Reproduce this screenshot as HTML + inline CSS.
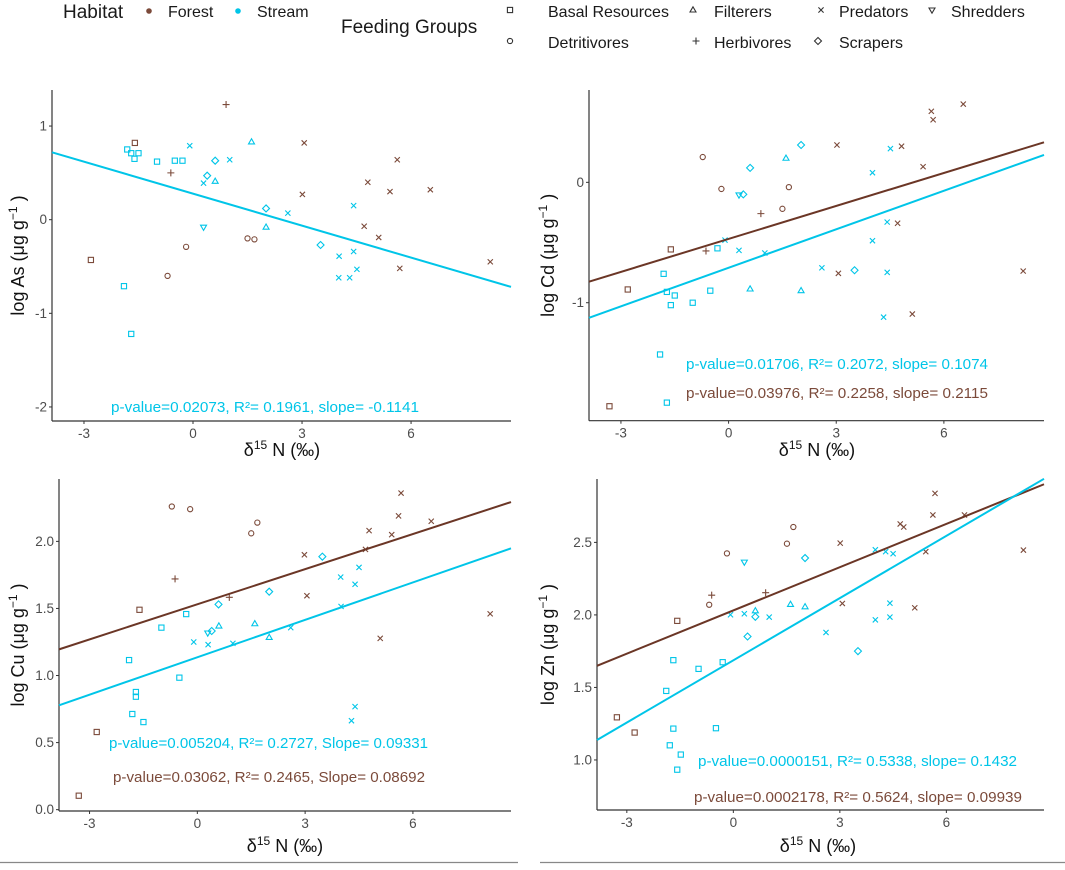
<!DOCTYPE html>
<html><head><meta charset="utf-8">
<style>
html,body{margin:0;padding:0;background:#fff;}
body{width:1065px;height:865px;overflow:hidden;font-family:"Liberation Sans",Arial,sans-serif;}
svg text{font-family:"Liberation Sans",Arial,sans-serif;}
</style></head>
<body>
<svg id="chart" width="1065" height="865" xmlns="http://www.w3.org/2000/svg">
<g id="legend">
  <text x="63" y="18" font-size="19" fill="#1a1a1a">Habitat</text>
  <circle cx="149" cy="11" r="2.8" fill="#7b4a3a"/>
  <text x="168" y="17" font-size="16" fill="#1a1a1a">Forest</text>
  <circle cx="238" cy="11" r="2.8" fill="#00c5e8"/>
  <text x="257" y="17" font-size="16" fill="#1a1a1a">Stream</text>
  <text x="341" y="33" font-size="19" fill="#1a1a1a">Feeding Groups</text>
  <g id="legendShapes"></g>
  <text x="548" y="17" font-size="16" fill="#1a1a1a">Basal Resources</text>
  <text x="714" y="17" font-size="16" fill="#1a1a1a">Filterers</text>
  <text x="839" y="17" font-size="16" fill="#1a1a1a">Predators</text>
  <text x="951" y="17" font-size="16" fill="#1a1a1a">Shredders</text>
  <text x="548" y="48" font-size="16" fill="#1a1a1a">Detritivores</text>
  <text x="714" y="48" font-size="16" fill="#1a1a1a">Herbivores</text>
  <text x="839" y="48" font-size="16" fill="#1a1a1a">Scrapers</text>
</g>
<line x1="0" y1="862.5" x2="518" y2="862.5" stroke="#888" stroke-width="1.2"/>
<line x1="540" y1="862.5" x2="1065" y2="862.5" stroke="#888" stroke-width="1.2"/>
</svg>
<script>
// ---- data (shape codes: B basal, D detritivores, F filterers, H herbivores, P predators, R scrapers, S shredders; habitat f forest, s stream)
const asX = [0.91,-1.6,-1.81,-1.70,-1.50,-1.61,-0.99,-0.50,-0.29,-0.09,1.61,0.61,1.01,3.06,-0.61,0.39,0.29,0.61,5.62,4.81,5.42,6.53,3.01,2.01,2.61,4.42,0.29,2.01,4.71,1.50,1.69,5.11,-0.19,3.51,4.02,4.42,-2.81,8.18,5.69,4.51,-0.70,4.01,4.31,-1.90,-1.70];
const asY = [1.23,0.82,0.75,0.71,0.71,0.65,0.62,0.63,0.63,0.79,0.83,0.63,0.64,0.82,0.50,0.47,0.39,0.41,0.64,0.40,0.30,0.32,0.27,0.12,0.07,0.15,-0.08,-0.08,-0.07,-0.20,-0.21,-0.19,-0.29,-0.27,-0.39,-0.34,-0.43,-0.45,-0.52,-0.53,-0.60,-0.62,-0.62,-0.71,-1.22];
const asShape = ["H","B","B","B","B","B","B","B","B","P","F","R","P","P","H","R","P","F","P","P","P","P","P","R","P","P","S","F","P","D","D","P","D","R","P","P","B","P","P","P","D","P","P","B","B"];
const asHab = ["f","f","s","s","s","s","s","s","s","s","s","s","s","f","f","s","s","s","f","f","f","f","f","s","s","s","s","s","f","f","f","f","f","s","s","s","f","f","f","s","f","s","s","s","s"];

const cdX = [6.54,5.65,5.70,2.02,3.02,4.82,4.51,-0.72,1.60,0.60,5.42,4.01,-0.20,1.68,0.29,0.41,1.50,0.90,4.42,4.71,4.01,-0.10,-1.61,-0.31,-0.63,0.29,1.01,2.60,3.51,3.06,4.42,8.21,-1.81,-2.81,0.60,-1.72,-0.51,2.02,-1.50,-1.61,-1.00,5.12,4.32,-1.91,-1.72,-3.32];
const cdY = [0.65,0.59,0.52,0.31,0.31,0.30,0.28,0.21,0.20,0.12,0.13,0.08,-0.055,-0.04,-0.105,-0.10,-0.22,-0.26,-0.33,-0.34,-0.485,-0.48,-0.557,-0.548,-0.57,-0.565,-0.587,-0.71,-0.73,-0.756,-0.748,-0.737,-0.76,-0.89,-0.886,-0.91,-0.90,-0.90,-0.94,-1.02,-1.00,-1.094,-1.12,-1.43,-1.83,-1.86];
const cdShape = ["P","P","P","R","P","P","P","D","F","R","P","P","D","D","S","R","D","H","P","P","P","P","B","B","H","P","P","P","R","P","P","P","B","B","F","B","B","F","B","B","B","P","P","B","B","B"];
const cdHab = ["f","f","f","s","f","f","s","f","s","s","f","s","f","f","s","s","f","f","s","f","s","s","f","s","f","s","s","s","s","f","s","f","s","f","s","s","s","s","s","s","s","f","s","s","s","f"];

const cuX = [5.67,-0.71,-0.20,5.60,1.67,6.51,1.50,5.41,4.78,4.68,2.98,3.48,4.50,3.99,-0.62,4.39,3.05,2.00,0.89,0.59,4.00,-1.61,8.15,-0.31,-1.00,0.60,1.60,0.29,0.40,2.60,2.00,5.09,-0.10,0.30,0.99,-1.90,-0.50,-1.71,-1.71,-1.81,4.39,-1.50,4.29,-2.80,-3.30];
const cuY = [2.36,2.26,2.24,2.19,2.14,2.15,2.06,2.05,2.08,1.94,1.90,1.886,1.806,1.734,1.72,1.68,1.595,1.625,1.583,1.53,1.515,1.49,1.46,1.458,1.357,1.369,1.386,1.317,1.332,1.357,1.284,1.277,1.25,1.23,1.24,1.115,0.984,0.877,0.842,0.713,0.768,0.653,0.663,0.579,0.104];
const cuShape = ["P","D","D","P","D","P","D","P","P","P","P","R","P","P","H","P","P","R","H","R","P","B","P","B","B","F","F","S","R","P","F","P","P","P","P","B","B","B","B","B","P","B","P","B","B"];
const cuHab = ["f","f","f","f","f","f","f","f","f","f","f","s","s","s","f","s","f","s","f","s","s","f","f","s","s","s","s","s","s","s","s","f","s","s","s","s","s","s","s","s","s","s","s","f","f"];

const znX = [5.68,5.62,6.51,4.70,4.80,1.69,1.51,3.01,8.17,4.00,4.29,4.50,5.42,-0.18,2.02,0.31,-0.61,0.91,-0.68,3.07,4.41,1.61,2.02,5.11,0.62,0.31,-0.08,0.62,1.01,4.41,4.00,-1.58,0.40,2.61,3.51,-1.69,-0.98,-0.30,-1.89,-3.28,-2.78,-1.69,-0.49,-1.79,-1.48,-1.58];
const znY = [2.838,2.689,2.689,2.627,2.606,2.606,2.491,2.495,2.447,2.449,2.436,2.422,2.436,2.424,2.392,2.364,2.136,2.153,2.07,2.079,2.081,2.072,2.056,2.049,2.028,2.008,2.001,1.987,1.985,1.985,1.966,1.959,1.851,1.879,1.75,1.688,1.628,1.674,1.476,1.294,1.189,1.216,1.219,1.101,1.037,0.933];
const znShape = ["P","P","P","P","P","D","D","P","P","P","P","P","P","D","R","S","H","H","D","P","P","F","F","P","F","P","P","R","P","P","P","B","R","P","R","B","B","B","B","B","B","B","B","B","B","B"];
const znHab = ["f","f","f","f","f","f","f","f","f","s","s","s","f","f","s","s","f","f","f","f","s","s","s","f","s","s","s","s","s","s","s","f","s","s","s","s","s","s","s","f","f","s","s","s","s","s"];

// regression lines: [intercept, slope]
const asFitStream = [0.278,-0.1138];
const cdFitForest = [-0.470,0.0913];
const cdFitStream = [-0.710,0.1067];
const cuFitForest = [1.531,0.0873];
const cuFitStream = [1.136,0.093];
const znFitForest = [2.031,0.0994];
const znFitStream = [1.687,0.143];

const xTicks = [-3,0,3,6];
const asYTicks = [1,0,-1,-2];
const asYLabels = ["1","0","-1","-2"];
const cdYTicks = [0,-1];
const cdYLabels = ["0","-1"];
const cuYTicks = [2.0,1.5,1.0,0.5,0.0];
const cuYLabels = ["2.0","1.5","1.0","0.5","0.0"];
const znYTicks = [2.5,2.0,1.5,1.0];
const znYLabels = ["2.5","2.0","1.5","1.0"];

const COL = {f:"#7b4a3a", s:"#00c5e8"};
const LINECOL = {f:"#6b3626", s:"#00c5e8"};
const NS = "http://www.w3.org/2000/svg";
const svg = document.getElementById('chart');

function mk(tag, attrs, parent){
  const e = document.createElementNS(NS, tag);
  for (const k in attrs) e.setAttribute(k, attrs[k]);
  (parent||svg).appendChild(e);
  return e;
}
function marker(parent, shape, cx, cy, color){
  const g = mk('g', {fill:'none', stroke:color, 'stroke-width':1.1}, parent);
  const r = 2.6;
  if (shape==='B') mk('rect',{x:cx-r,y:cy-r,width:2*r,height:2*r},g);
  else if (shape==='D') mk('circle',{cx:cx,cy:cy,r:r},g);
  else if (shape==='F') mk('polygon',{points:`${cx},${cy-3.2} ${cx-3},${cy+2} ${cx+3},${cy+2}`},g);
  else if (shape==='S') mk('polygon',{points:`${cx},${cy+3.2} ${cx-3},${cy-2} ${cx+3},${cy-2}`},g);
  else if (shape==='H') mk('path',{d:`M${cx-3.5},${cy}H${cx+3.5}M${cx},${cy-3.5}V${cy+3.5}`},g);
  else if (shape==='P') mk('path',{d:`M${cx-2.6},${cy-2.6}L${cx+2.6},${cy+2.6}M${cx-2.6},${cy+2.6}L${cx+2.6},${cy-2.6}`},g);
  else if (shape==='R') mk('polygon',{points:`${cx},${cy-3.5} ${cx+3.5},${cy} ${cx},${cy+3.5} ${cx-3.5},${cy}`},g);
  return g;
}

function panel(cfg){
  const g = mk('g', {});
  
  
  const sx = v => cfg.L + (v - cfg.xmin) / (cfg.xmax - cfg.xmin) * (cfg.R - cfg.L);
  const sy = v => cfg.B - (v - cfg.ymin) / (cfg.ymax - cfg.ymin) * (cfg.B - cfg.T);
  const ya = mk('line',{x1:cfg.L,y1:cfg.T,x2:cfg.L,y2:cfg.B,stroke:'#333','stroke-width':1.2},g);
  
  
  const xa = mk('line',{x1:cfg.L,y1:cfg.B,x2:cfg.R,y2:cfg.B,stroke:'#333','stroke-width':1.2},g);
  
  
  xTicks.forEach(t=>{
    const x = sx(t);
    mk('line',{x1:x,y1:cfg.B,x2:x,y2:cfg.B+3,stroke:'#333','stroke-width':1},g);
    const tx = mk('text',{x:x,y:cfg.B+17,'text-anchor':'middle','font-size':13.5,fill:'#4d4d4d'},g);
    tx.textContent = String(t);
    
    
  });
  cfg.yt.forEach((t,i)=>{
    const y = sy(t);
    mk('line',{x1:cfg.L-3,y1:y,x2:cfg.L,y2:y,stroke:'#333','stroke-width':1},g);
    const ty = mk('text',{x:cfg.L-5,y:y+4.5,'text-anchor':'end','font-size':13.5,fill:'#4d4d4d'},g);
    ty.textContent = cfg.yl[i];
    
    
  });
  const xt = mk('text',{x:cfg.xtX,y:cfg.xtY,'text-anchor':'middle','font-size':18,fill:'#111'},g);
  xt.innerHTML = 'δ<tspan dy="-7" font-size="12">15</tspan><tspan dy="7"> N (‰)</tspan>';
  
  
  const ycx = 24, ycy = (cfg.T+cfg.B)/2;
  const yt = mk('text',{x:ycx + cfg.ytOff,y:ycy,'text-anchor':'middle','font-size':18,fill:'#111',transform:`rotate(-90 ${ycx+cfg.ytOff} ${ycy})`},g);
  yt.innerHTML = `log ${cfg.el} (μg g<tspan dy="-7" font-size="12">−1</tspan><tspan dy="7"> )</tspan>`;
  
  
  for (let i=0;i<cfg.x.length;i++){
    const m = marker(g, cfg.shape[i], sx(cfg.x[i]), sy(cfg.y[i]), COL[cfg.hab[i]]);
    
    
  }
  cfg.fits.forEach(f=>{
    const [a,b] = f.p;
    const ln = mk('line',{x1:sx(cfg.xmin),y1:sy(a+b*cfg.xmin),x2:sx(cfg.xmax),y2:sy(a+b*cfg.xmax),stroke:LINECOL[f.h],'stroke-width':2},g);
    
    
  });
  cfg.notes.forEach(n=>{
    const t = mk('text',{x:n.x,y:n.y,'font-size':14.5,fill:COL[n.h],'text-anchor':'start',textLength:n.w,lengthAdjust:'spacingAndGlyphs'},g);
    t.textContent = n.t;
    
    
  });
}

panel({name:'panel-as', el:'As', L:52, R:511, T:90, B:421, xmin:-3.88, xmax:8.75, ymin:-2.15, ymax:1.385,
  x:asX, y:asY, shape:asShape, hab:asHab, yt:asYTicks, yl:asYLabels, xtX:282, xtY:456, ytOff:0,
  fits:[{p:asFitStream,h:'s'}],
  notes:[{x:111,y:412,w:308,h:'s',t:'p-value=0.02073,  R²= 0.1961, slope= -0.1141'}]});
panel({name:'panel-cd', el:'Cd', L:589, R:1044, T:90, B:420.7, xmin:-3.89, xmax:8.79, ymin:-1.98, ymax:0.767,
  x:cdX, y:cdY, shape:cdShape, hab:cdHab, yt:cdYTicks, yl:cdYLabels, xtX:817, xtY:456, ytOff:530,
  fits:[{p:cdFitForest,h:'f'},{p:cdFitStream,h:'s'}],
  notes:[{x:686,y:369,w:302,h:'s',t:'p-value=0.01706,  R²= 0.2072, slope= 0.1074'},
         {x:686,y:398,w:302,h:'f',t:'p-value=0.03976,  R²= 0.2258, slope= 0.2115'}]});
panel({name:'panel-cu', el:'Cu', L:59, R:511, T:479, B:811, xmin:-3.85, xmax:8.73, ymin:-0.01, ymax:2.465,
  x:cuX, y:cuY, shape:cuShape, hab:cuHab, yt:cuYTicks, yl:cuYLabels, xtX:285, xtY:852, ytOff:0,
  fits:[{p:cuFitForest,h:'f'},{p:cuFitStream,h:'s'}],
  notes:[{x:109,y:748,w:319,h:'s',t:'p-value=0.005204, R²= 0.2727, Slope= 0.09331'},
         {x:113,y:782,w:312,h:'f',t:'p-value=0.03062, R²= 0.2465, Slope= 0.08692'}]});
panel({name:'panel-zn', el:'Zn', L:597, R:1044, T:479, B:810, xmin:-3.84, xmax:8.75, ymin:0.655, ymax:2.937,
  x:znX, y:znY, shape:znShape, hab:znHab, yt:znYTicks, yl:znYLabels, xtX:818, xtY:852, ytOff:530,
  fits:[{p:znFitForest,h:'f'},{p:znFitStream,h:'s'}],
  notes:[{x:698,y:766,w:319,h:'s',t:'p-value=0.0000151,  R²= 0.5338, slope= 0.1432'},
         {x:694,y:802,w:328,h:'f',t:'p-value=0.0002178,  R²= 0.5624, slope= 0.09939'}]});

const lg = document.getElementById('legendShapes');
[['B',510,10],['D',510,41],['F',693,10],['H',696,41],['P',821,10],['R',818,41],['S',932,10]].forEach(s=>{
  const m = marker(lg, s[0], s[1], s[2], '#333');
  
  
});
</script>
</body></html>
